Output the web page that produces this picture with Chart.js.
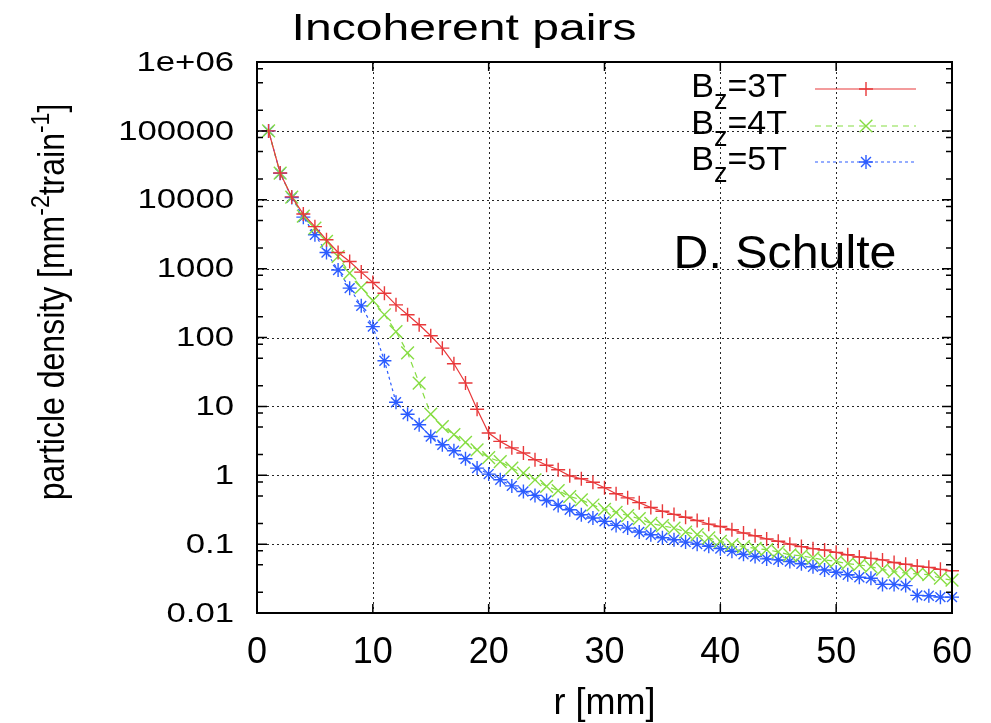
<!DOCTYPE html>
<html>
<head>
<meta charset="utf-8">
<script src="https://cdn.jsdelivr.net/npm/chart.js@4/dist/chart.umd.min.js"></script>
<style>
  html, body { margin: 0; padding: 0; background: #fff; }
  #wrap { width: 991px; height: 723px; }
</style>
</head>
<body>
<div id="wrap"><canvas id="pairs" width="991" height="723"></canvas></div>
<script>
// radius in mm, one point per mm
const radius = Array.from({ length: 60 }, (_, i) => i + 1);

// particle density [mm^-2 train^-1]
const bz3 = [100000, 24500, 11000, 6200, 4070, 2620, 1714, 1268, 890, 630,
    440, 298, 214, 153, 106, 70, 41.5, 21.8, 9.1, 4.1,
    3.1, 2.5, 2.1, 1.68, 1.4, 1.2, 0.98, 0.89, 0.79, 0.66,
    0.54, 0.47, 0.40, 0.34, 0.30, 0.27, 0.245, 0.22, 0.195, 0.18,
    0.162, 0.145, 0.132, 0.119, 0.110, 0.100, 0.092, 0.086, 0.082, 0.076,
    0.070, 0.065, 0.062, 0.059, 0.054, 0.051, 0.048, 0.046, 0.043, 0.041];
const bz4 = [100000, 24300, 10900, 5800, 3860, 2480, 1500, 861, 532, 344,
    214, 122, 60, 21.8, 7.7, 5.1, 3.9, 3.0, 2.34, 1.8,
    1.58, 1.27, 1.07, 0.86, 0.69, 0.60, 0.49, 0.44, 0.37, 0.32,
    0.29, 0.26, 0.234, 0.20, 0.185, 0.171, 0.15, 0.137, 0.123, 0.11,
    0.098, 0.092, 0.087, 0.083, 0.077, 0.070, 0.068, 0.063, 0.059, 0.056,
    0.052, 0.050, 0.047, 0.043, 0.040, 0.038, 0.037, 0.036, 0.032, 0.030];
const bz5 = [100000, 24300, 10760, 5590, 3100, 1713, 955, 521, 288, 144,
    46, 11.5, 7.7, 5.4, 3.66, 2.77, 2.27, 1.74, 1.27, 1.04,
    0.86, 0.70, 0.58, 0.51, 0.43, 0.365, 0.316, 0.267, 0.239, 0.214,
    0.187, 0.171, 0.15, 0.137, 0.124, 0.116, 0.107, 0.100, 0.093, 0.086,
    0.079, 0.071, 0.066, 0.061, 0.059, 0.056, 0.052, 0.047, 0.042, 0.039,
    0.036, 0.033, 0.032, 0.026, 0.026, 0.025, 0.018, 0.0178, 0.017, 0.017];

const seriesNames = ['3T', '4T', '5T'];

// axis ticks
const xTicks = [0, 10, 20, 30, 40, 50, 60];
const yTicks = [0.01, 0.1, 1, 10, 100, 1000, 10000, 100000, 1000000];
const yTickLabels = ['0.01', '0.1', '1', '10', '100', '1000', '10000', '100000', '1e+06'];

const FONT = '"Liberation Sans", Arial, Helvetica, sans-serif';

const styles = [
    { color: '#e8383a', dash: [], point: 'cross', radius: 7 },
    { color: '#86dd42', dash: [6, 5], point: 'crossRot', radius: 9 },
    { color: '#2c5cff', dash: [3, 3], point: 'star', radius: 7 }
];

function makeSet(values, idx) {
    const s = styles[idx];
    return {
        label: 'Bz=' + seriesNames[idx],
        data: radius.map((r, i) => ({ x: r, y: values[i] })),
        borderColor: s.color,
        backgroundColor: s.color,
        borderWidth: 1.2,
        borderDash: s.dash,
        pointStyle: s.point,
        pointRadius: s.radius,
        pointBorderWidth: 1.4,
        pointBorderColor: s.color,
        tension: 0,
        clip: false
    };
}

// text that is stretched sideways like in the original picture
function wideText(ctx, text, x, y, size, sx, align, baseline) {
    ctx.save();
    ctx.translate(x, y);
    ctx.scale(sx, 1);
    ctx.font = size + 'px ' + FONT;
    ctx.textAlign = align;
    ctx.textBaseline = baseline;
    ctx.fillStyle = '#000';
    ctx.fillText(text, 0, 0);
    ctx.restore();
}

// grid, frame and ticks in gnuplot style
const framePlugin = {
    id: 'frame',
    beforeDatasetsDraw(chart) {
        const { ctx, chartArea: a, scales: { x, y } } = chart;
        ctx.save();
        ctx.strokeStyle = 'rgba(0,0,0,0.85)';
        ctx.lineWidth = 1;
        ctx.setLineDash([2, 3]);
        xTicks.slice(1, -1).forEach(v => {
            const px = Math.round(x.getPixelForValue(v)) + 0.5;
            ctx.beginPath(); ctx.moveTo(px, a.top); ctx.lineTo(px, a.bottom); ctx.stroke();
        });
        yTicks.slice(1, -1).forEach(v => {
            const py = Math.round(y.getPixelForValue(v)) + 0.5;
            ctx.beginPath(); ctx.moveTo(a.left, py); ctx.lineTo(a.right, py); ctx.stroke();
        });
        ctx.restore();
    },
    afterDatasetsDraw(chart) {
        const { ctx, chartArea: a, scales: { x, y } } = chart;
        ctx.save();
        ctx.strokeStyle = '#000';
        ctx.lineWidth = 2;
        ctx.setLineDash([]);
        ctx.strokeRect(a.left, a.top, a.right - a.left, a.bottom - a.top);

        ctx.lineWidth = 1.5;
        // x ticks, bottom and top, inward
        xTicks.forEach(v => {
            const px = x.getPixelForValue(v);
            ctx.beginPath();
            ctx.moveTo(px, a.bottom); ctx.lineTo(px, a.bottom - 9);
            ctx.moveTo(px, a.top); ctx.lineTo(px, a.top + 9);
            ctx.stroke();
        });
        // y ticks, major and minor (2, 5, 8), left and right
        yTicks.forEach((v, i) => {
            const py = y.getPixelForValue(v);
            ctx.beginPath();
            ctx.moveTo(a.left, py); ctx.lineTo(a.left + 10, py);
            ctx.moveTo(a.right, py); ctx.lineTo(a.right - 10, py);
            ctx.stroke();
            if (i < yTicks.length - 1) {
                [2, 5, 8].forEach(m => {
                    const pm = y.getPixelForValue(v * m);
                    ctx.beginPath();
                    ctx.moveTo(a.left, pm); ctx.lineTo(a.left + 6, pm);
                    ctx.moveTo(a.right, pm); ctx.lineTo(a.right - 6, pm);
                    ctx.stroke();
                });
            }
        });
        ctx.restore();
    },
    afterDraw(chart) {
        const { ctx, chartArea: a, scales: { x, y } } = chart;

        // tick labels
        yTicks.forEach((v, i) => {
            wideText(ctx, yTickLabels[i], a.left - 23, y.getPixelForValue(v) + 1, 28, 1.24, 'right', 'middle');
        });
        xTicks.forEach(v => {
            wideText(ctx, String(v), x.getPixelForValue(v), 663, 36, 1, 'center', 'alphabetic');
        });

        // titles
        wideText(ctx, 'Incoherent pairs', 464, 40, 37, 1.3, 'center', 'alphabetic');
        wideText(ctx, 'r [mm]', (a.left + a.right) / 2, 714, 36, 1, 'center', 'alphabetic');
        wideText(ctx, 'D. Schulte', 785, 268, 46, 1.05, 'center', 'alphabetic');

        // y axis title with superscripts
        const parts = [
            ['particle density [mm', false], ['-2', true], ['train', false], ['-1', true], [']', false]
        ];
        ctx.save();
        ctx.translate(64, 302);
        ctx.rotate(-Math.PI / 2);
        ctx.scale(1, 1.15);
        ctx.fillStyle = '#000';
        ctx.textBaseline = 'alphabetic';
        ctx.textAlign = 'left';
        const fontOf = sup => (sup ? 23 : 32) + 'px ' + FONT;
        let total = 0;
        parts.forEach(([t, sup]) => { ctx.font = fontOf(sup); total += ctx.measureText(t).width; });
        let cx = -total / 2;
        parts.forEach(([t, sup]) => {
            ctx.font = fontOf(sup);
            ctx.fillText(t, cx, sup ? -13 : 0);
            cx += ctx.measureText(t).width;
        });
        ctx.restore();

        // legend
        const rows = [97, 134, 170];
        chart.data.datasets.forEach((ds, i) => {
            const base = rows[i];
            ctx.save();
            ctx.fillStyle = '#000';
            ctx.textBaseline = 'alphabetic';
            ctx.textAlign = 'left';
            const tail = '=' + seriesNames[i];
            ctx.font = '34px ' + FONT;
            const wB = ctx.measureText('B').width;
            const wT = ctx.measureText(tail).width;
            ctx.font = '27px ' + FONT;
            const wz = ctx.measureText('z').width;
            let tx = 787 - (wB + wz + wT);
            ctx.font = '34px ' + FONT;
            ctx.fillText('B', tx, base);
            ctx.font = '27px ' + FONT;
            ctx.fillText('z', tx + wB, base + 12);
            ctx.font = '34px ' + FONT;
            ctx.fillText(tail, tx + wB + wz, base);

            const ly = base - 8;
            ctx.strokeStyle = ds.borderColor;
            ctx.lineWidth = ds.borderWidth;
            ctx.setLineDash(ds.borderDash);
            ctx.beginPath(); ctx.moveTo(815, ly); ctx.lineTo(916, ly); ctx.stroke();
            ctx.setLineDash([]);
            ctx.lineWidth = ds.pointBorderWidth;
            Chart.helpers.drawPoint(ctx, {
                pointStyle: ds.pointStyle, radius: ds.pointRadius, rotation: 0,
                borderWidth: ds.pointBorderWidth
            }, 866, ly);
            ctx.restore();
        });
    }
};

new Chart(document.getElementById('pairs').getContext('2d'), {
    type: 'line',
    data: { datasets: [makeSet(bz3, 0), makeSet(bz4, 1), makeSet(bz5, 2)] },
    options: {
        responsive: false,
        animation: false,
        devicePixelRatio: 1,
        layout: { padding: { left: 257, right: 39, top: 62, bottom: 110 } },
        plugins: { legend: { display: false }, tooltip: { enabled: false } },
        scales: {
            x: {
                type: 'linear', min: 0, max: 60,
                ticks: { display: false }, grid: { display: false }, border: { display: false },
                afterFit: s => { s.height = 0; }
            },
            y: {
                type: 'logarithmic', min: 0.01, max: 1000000,
                ticks: { display: false }, grid: { display: false }, border: { display: false },
                afterFit: s => { s.width = 0; }
            }
        }
    },
    plugins: [framePlugin]
});
</script>
</body>
</html>
